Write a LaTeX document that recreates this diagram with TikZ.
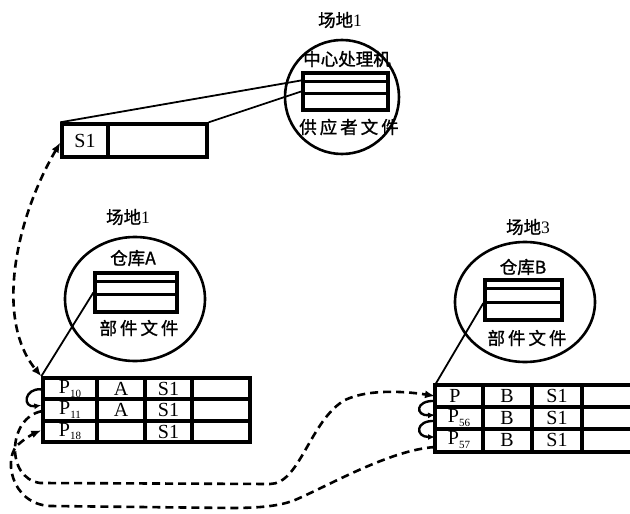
\documentclass[tikz,border=0pt]{standalone}
\usepackage{fontspec}
\setmainfont{Liberation Serif}
\newfontfamily\cjk[FakeBold=1.2]{Noto Sans CJK SC}
\newfontfamily\cjkw[LetterSpace=17,FakeBold=1.2]{Noto Sans CJK SC}
\usetikzlibrary{arrows.meta,shapes.geometric,calc}
\newcommand{\Psb}[1]{P{\fontsize{11}{11}\selectfont\raisebox{-3.5pt}{#1}}}
\begin{document}
\begin{tikzpicture}[x=1pt,y=-1pt,
  site/.style={draw, ellipse, line width=2.6pt, inner sep=0pt},
  filebox/.style={draw, line width=3.2pt, inner sep=0pt},
  tablebox/.style={draw, line width=3.4pt, inner sep=0pt},
  grid/.style={line width=3.2pt},
  cjklbl/.style={inner sep=0pt, font=\cjk\fontsize{17.5}{18}\selectfont},
  cjkwide/.style={inner sep=0pt, font=\cjkw\fontsize{17.5}{18}\selectfont},
  sitelbl/.style={inner sep=0pt, font=\fontsize{17.5}{18}\selectfont},
  cell/.style={inner sep=0pt, font=\fontsize{20}{20}\selectfont},
  link/.style={line width=1.8pt},
  dlink/.style={line width=2.6pt, dash pattern=on 8pt off 5pt},
  tip/.style={-{Latex[length=10pt,width=8pt]}},
  hook/.style={line width=2.4pt, -{Latex[length=7pt,width=6pt]}}]
\useasboundingbox (0,0) rectangle (630,514);
\clip (0,0) rectangle (630,514);

% ---- site 1 : central processor
\node[sitelbl] (t0) at (340,20) {{\cjk 场地}1};
\node[site, minimum width=114pt, minimum height=114pt] (c0) at (342,97) {};
\node[cjklbl] (h0) at (347,59) {中心处理机};
\node[filebox, minimum width=85pt, minimum height=37pt] (f0) at (345.5,91.5) {};
\draw[grid] ($(f0.north west)+(0,10)$) -- ($(f0.north east)+(0,10)$);
\draw[grid] ($(f0.north west)+(0,22)$) -- ($(f0.north east)+(0,22)$);
\node[cjkwide] (b0) at (349,127) {供应者文件};

% ---- supplier record
\node[tablebox, minimum width=145pt, minimum height=33pt] (s1) at (134.5,140.5) {};
\draw[grid] (108,124) -- (108,157);
\node[cell] (s1t) at (85,141) {S1};
\draw[link] (s1.north west) -- ($(f0.north west)+(0,9)$);
\draw[link] (s1.north east) -- ($(f0.north west)+(0,20)$);

% ---- site 1 : warehouse A
\node[sitelbl] (tA) at (128,217) {{\cjk 场地}1};
\node[site, minimum width=140pt, minimum height=124pt] (cA) at (135,299) {};
\node[cjklbl] (hA) at (133,258) {仓库A};
\node[filebox, minimum width=82pt, minimum height=39pt] (fA) at (136,292.5) {};
\draw[grid] ($(fA.north west)+(0,10)$) -- ($(fA.north east)+(0,10)$);
\draw[grid] ($(fA.north west)+(0,23)$) -- ($(fA.north east)+(0,23)$);
\node[cjkwide] (bA) at (139,328) {部件文件};

% ---- site 3 : warehouse B
\node[sitelbl] (tB) at (528,227) {{\cjk 场地}3};
\node[site, minimum width=140pt, minimum height=120pt] (cB) at (525,302) {};
\node[cjklbl] (hB) at (523,267) {仓库B};
\node[filebox, minimum width=77pt, minimum height=40pt] (fB) at (523.5,300) {};
\draw[grid] ($(fB.north west)+(0,10)$) -- ($(fB.north east)+(0,10)$);
\draw[grid] ($(fB.north west)+(0,24)$) -- ($(fB.north east)+(0,24)$);
\node[cjkwide] (bB) at (527,338) {部件文件};

% ---- table A
\node[tablebox, minimum width=207pt, minimum height=64pt] (TA) at (146.5,410) {};
\draw[grid] (43,399) -- (250,399);
\draw[grid] (43,421) -- (250,421);
\draw[grid] (97,378) -- (97,442);
\draw[grid] (145,378) -- (145,442);
\draw[grid] (192,378) -- (192,442);
\node[cell] (a11) at (70,389) {\Psb{10}};
\node[cell] (a12) at (121,389) {A};
\node[cell] (a13) at (168.5,389) {S1};
\node[cell] (a21) at (70,410) {\Psb{11}};
\node[cell] (a22) at (121,410) {A};
\node[cell] (a23) at (168.5,410) {S1};
\node[cell] (a31) at (70,431.5) {\Psb{18}};
\node[cell] (a33) at (168.5,431.5) {S1};

% ---- table B
\draw[tablebox] (650,385) -- (435,385) -- (435,452) -- (650,452);
\coordinate (TB) at (435,385);
\draw[grid] (435,407) -- (650,407);
\draw[grid] (435,429) -- (650,429);
\draw[grid] (483,385) -- (483,452);
\draw[grid] (532,385) -- (532,452);
\draw[grid] (582,385) -- (582,452);
\node[cell] (b11) at (455,396) {P};
\node[cell] (b12) at (507,396) {B};
\node[cell] (b13) at (557,396) {S1};
\node[cell] (b21) at (459,418) {\Psb{56}};
\node[cell] (b22) at (507,418) {B};
\node[cell] (b23) at (557,418) {S1};
\node[cell] (b31) at (459,440) {\Psb{57}};
\node[cell] (b32) at (507,440) {B};
\node[cell] (b33) at (557,440) {S1};

% ---- solid links from files to tables
\draw[link] (fA.west) -- (TA.north west);
\draw[link] ($(fB.west)+(0,3)$) -- (TB);

% ---- dashed: supplier record <-> table A
\draw[dlink, {Latex[length=10pt,width=8pt]}-{Latex[length=10pt,width=8pt]}]
  ($(s1.west)+(0,2)$) .. controls (15,220) and (-5,320) .. (TA.north west);

% ---- chain hooks
\draw[hook] ($(TA.north west)+(0,13)$) .. controls (24,388) and (22,408) .. ($(TA.north west)+(0,29)$);
\draw[hook] ($(TB)+(0,16)$) .. controls (415,400) and (415,416) .. ($(TB)+(0,30)$);
\draw[hook] ($(TB)+(0,36)$) .. controls (415,420) and (415,437) .. ($(TB)+(0,52)$);

% ---- dashed chain between sites
\draw[dlink, tip] ($(TA.north west)+(0,35)$) .. controls (8,418) and (5,478) .. (40,483)
  -- (270,484) .. controls (300,484) and (310,420) .. (345,400)
  .. controls (370,388) and (410,392) .. ($(TB)+(0,11)$);
\draw[dlink, tip] ($(TB)+(0,62)$) .. controls (390,450) and (330,485) .. (295,500)
  .. controls (280,506) and (260,508) .. (230,508) -- (50,506)
  .. controls (10,504) and (2,455) .. (20,443)
  .. controls (27,437) and (35,433) .. ($(TA.north west)+(0,54)$);
\end{tikzpicture}
\end{document}
